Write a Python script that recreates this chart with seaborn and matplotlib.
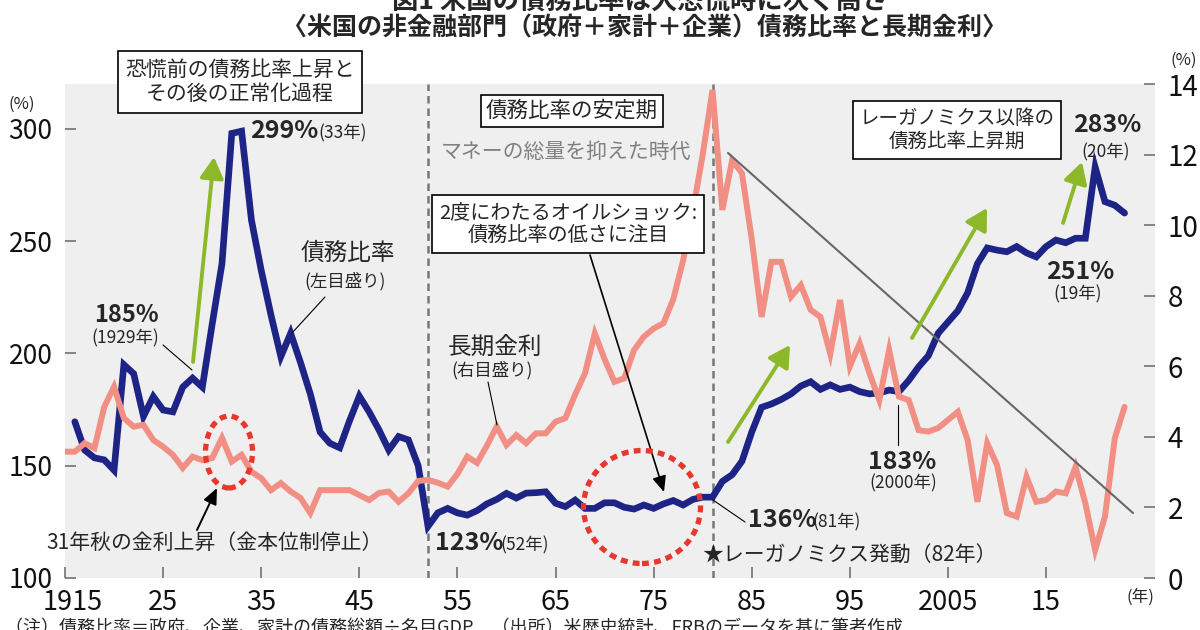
import matplotlib
matplotlib.use("Agg")
import matplotlib.pyplot as plt
from matplotlib.patches import FancyArrowPatch, Ellipse
from matplotlib.transforms import ScaledTranslation
import seaborn as sns
import pandas as pd

# ---------------- data ----------------
debt_years = list(range(1916, 2024))
debt_ratio = [169.6, 157, 153.5, 152.6, 148, 195, 191, 172, 180.8, 174.8,
              174, 185, 189, 185, 213, 240, 298, 299, 259.5, 237,
              217, 198.6, 209, 196, 182, 165, 160, 158, 170, 181,
              174, 166, 157, 163, 161.5, 150, 123, 129, 131, 129,
              128, 130, 133, 135, 137.7, 135.6, 137.8, 138, 138.4, 133.3,
              131.8, 134.7, 131, 131, 133.5, 133.5, 131.5, 130.7, 132.5, 131,
              133, 134.5, 132.5, 135, 136, 136, 143, 146, 152, 165,
              176, 177.5, 179.5, 182, 185.5, 187.4, 184, 186, 184, 185,
              183, 182, 182.4, 183.7, 183, 188, 194, 199, 209, 214,
              219, 227, 240, 247, 246, 245.3, 247.6, 244.8, 243, 247.6,
              250.5, 249.3, 251.3, 251.3, 283, 267.6, 266, 262.5]

rate_years = list(range(1915, 2024))
long_rate = [3.58, 3.58, 3.82, 3.68, 4.85, 5.42, 4.53, 4.29, 4.34, 3.91,
             3.72, 3.49, 3.12, 3.44, 3.34, 3.40, 3.97, 3.30, 3.49, 3.01,
             2.83, 2.49, 2.69, 2.45, 2.27, 1.84, 2.49, 2.49, 2.49, 2.49,
             2.35, 2.21, 2.41, 2.45, 2.16, 2.40, 2.75, 2.78, 2.70, 2.59,
             2.95, 3.44, 3.26, 3.75, 4.29, 3.77, 4.05, 3.82, 4.10, 4.10,
             4.43, 4.53, 5.20, 5.80, 6.93, 6.20, 5.56, 5.66, 6.46, 6.84,
             7.07, 7.22, 7.90, 9.00, 10.40, 12.00, 13.83, 10.43, 11.84, 11.47,
             9.60, 7.40, 8.96, 8.96, 7.97, 8.30, 7.60, 7.40, 6.35, 7.88,
             6.00, 6.65, 5.80, 5.04, 6.46, 5.14, 5.04, 4.19, 4.15, 4.25,
             4.48, 4.71, 3.91, 2.16, 3.82, 3.20, 1.84, 1.74, 2.87, 2.16,
             2.21, 2.45, 2.40, 3.15, 2.12, 0.79, 1.74, 3.96, 4.85]

x_ticks = [1915, 1925, 1935, 1945, 1955, 1965, 1975, 1985, 1995, 2005, 2015]
x_tick_labels = ["1915", "25", "35", "45", "55", "65", "75", "85", "95", "2005", "15"]
left_ticks = [100, 150, 200, 250, 300]
right_ticks = [0, 2, 4, 6, 8, 10, 12, 14]

debt_df = pd.DataFrame({"year": debt_years, "ratio": debt_ratio})
rate_df = pd.DataFrame({"year": rate_years, "rate": long_rate})

# ---------------- style ----------------
sns.set_theme(style="white")
plt.rcParams["font.family"] = ["Noto Sans CJK JP", "DejaVu Sans"]

W, H = 1200, 630
fig = plt.figure(figsize=(12, 6.3), dpi=100)
fig.patch.set_facecolor("white")


def P(x, y):
    return (x / W, 1 - y / H)


L, R, T, B = 65, 1155, 84, 578
ax = fig.add_axes([L / W, 1 - B / H, (R - L) / W, (B - T) / H])
ax.set_facecolor("#efefef")
ax2 = ax.twinx()

NAVY = "#1e2485"
SALMON = "#f28f84"
GREEN = "#8cb82a"
RED = "#e8372c"

sns.lineplot(data=debt_df, x="year", y="ratio", ax=ax, color=NAVY,
             linewidth=4.8, solid_joinstyle="miter", zorder=3)
sns.lineplot(data=rate_df, x="year", y="rate", ax=ax2, color=SALMON,
             linewidth=4.3, solid_joinstyle="miter", zorder=2)

ax.set_xlim(1915, 2026.1)
ax.set_ylim(100, 320)
ax2.set_ylim(0, 14)
ax.set_xlabel("")
ax.set_ylabel("")
ax2.set_ylabel("")

ax.set_xticks(x_ticks)
ax.set_xticklabels(x_tick_labels)
ax.set_yticks(left_ticks)
ax.set_yticklabels([str(v) for v in left_ticks])
ax2.set_yticks(right_ticks)
ax2.set_yticklabels([str(v) for v in right_ticks])

for a in (ax, ax2):
    for s in a.spines.values():
        s.set_visible(False)
ax.tick_params(axis="x", direction="in", length=8, width=1.1, color="#666",
               labelsize=19.5, pad=8, labelcolor="#111", bottom=True)
ax.tick_params(axis="y", direction="in", length=8, width=1.1, color="#666",
               labelsize=19, pad=9, labelcolor="#111", left=True)
ax2.tick_params(axis="y", direction="in", length=8, width=1.1, color="#666",
                labelsize=20, pad=9, labelcolor="#111", right=True)

# shift the "1915" label a little to the right, as in the reference
first = ax.get_xticklabels()[0]
first.set_transform(first.get_transform() + ScaledTranslation(0.08, 0, fig.dpi_scale_trans))

for xv in (1952, 1981):
    ax.axvline(xv, color="#777777", lw=1.8, ls=(0, (3, 2)), zorder=1)

# ---------------- titles ----------------
fig.text(*P(640, 2), "図1 米国の債務比率は大恐慌時に次ぐ高さ", ha="center", va="center",
         fontsize=19, fontweight="bold")
fig.text(*P(645, 29), "〈米国の非金融部門（政府＋家計＋企業）債務比率と長期金利〉",
         ha="center", va="center", fontsize=18, fontweight="bold")
fig.text(*P(5, 619), "（注）債務比率＝政府、企業、家計の債務総額÷名目GDP　（出所）米歴史統計、FRBのデータを基に筆者作成",
         ha="left", va="top", fontsize=13)

fig.text(*P(22, 104), "(%)", ha="center", va="center", fontsize=12)
fig.text(*P(1184, 60), "(%)", ha="center", va="center", fontsize=12)
fig.text(*P(1140, 597), "(年)", ha="center", va="center", fontsize=12)

boxkw = dict(boxstyle="square,pad=0.35", fc="white", ec="black", lw=1.2)

# boxes
fig.text(*P(240, 82), "恐慌前の債務比率上昇と\nその後の正常化過程", ha="center", va="center",
         fontsize=15, linespacing=1.15, bbox=boxkw)
fig.text(*P(572, 111), "債務比率の安定期", ha="center", va="center", fontsize=15.5,
         bbox=dict(boxstyle="square,pad=0.25", fc="white", ec="black", lw=1.2))
fig.text(*P(566, 152), "マネーの総量を抑えた時代", ha="center", va="center",
         fontsize=15, color="#808080")
fig.text(*P(568, 224), "2度にわたるオイルショック:\n債務比率の低さに注目", ha="center",
         va="center", fontsize=14.5, linespacing=1.15, bbox=boxkw)
fig.text(*P(957, 130), "レーガノミクス以降の\n債務比率上昇期", ha="center", va="center",
         fontsize=14, linespacing=1.15, bbox=boxkw)

# labels
fig.text(*P(250, 131), "299%", ha="left", va="center", fontsize=18, fontweight="bold")
fig.text(*P(318, 133), "(33年)", ha="left", va="center", fontsize=12.5)
fig.text(*P(348, 253), "債務比率", ha="center", va="center", fontsize=17)
fig.text(*P(345, 281), "(左目盛り)", ha="center", va="center", fontsize=12.5)
fig.text(*P(126, 315), "185%", ha="center", va="center", fontsize=17, fontweight="bold")
fig.text(*P(125, 338), "(1929年)", ha="center", va="center", fontsize=12.5)
fig.text(*P(215, 543), "31年秋の金利上昇（金本位制停止）", ha="center", va="center", fontsize=15)
fig.text(*P(435, 543), "123%", ha="left", va="center", fontsize=18, fontweight="bold")
fig.text(*P(500, 545), "(52年)", ha="left", va="center", fontsize=12.5)
fig.text(*P(495, 347), "長期金利", ha="center", va="center", fontsize=17)
fig.text(*P(492, 370), "(右目盛り)", ha="center", va="center", fontsize=12.5)
fig.text(*P(748, 520), "136%", ha="left", va="center", fontsize=18, fontweight="bold")
fig.text(*P(812, 522), "(81年)", ha="left", va="center", fontsize=12.5)
fig.text(*P(702, 555), "★レーガノミクス発動（82年）", ha="left", va="center", fontsize=15)
fig.text(*P(1107, 125), "283%", ha="center", va="center", fontsize=18, fontweight="bold")
fig.text(*P(1106, 152), "(20年)", ha="center", va="center", fontsize=12.5)
fig.text(*P(1080, 272), "251%", ha="center", va="center", fontsize=18, fontweight="bold")
fig.text(*P(1078, 294), "(19年)", ha="center", va="center", fontsize=12.5)
fig.text(*P(902, 462), "183%", ha="center", va="center", fontsize=18, fontweight="bold")
fig.text(*P(903, 483), "(2000年)", ha="center", va="center", fontsize=12.5)


def line(p0, p1, color="black", lw=0.8):
    fig.add_artist(plt.Line2D([p0[0] / W, p1[0] / W], [1 - p0[1] / H, 1 - p1[1] / H],
                              transform=fig.transFigure, color=color, lw=lw, zorder=4))


def arrow(p0, p1, color, lw, scale, hw):
    fig.add_artist(FancyArrowPatch(P(*p0), P(*p1), transform=fig.transFigure,
                                   arrowstyle=f"-|>,head_length=0.8,head_width={hw}",
                                   mutation_scale=scale, lw=lw, color=color,
                                   shrinkA=0, shrinkB=0, zorder=5))


# leader lines
line((325, 297), (292, 333))
line((163, 345), (192, 370))
line((488, 382), (497, 425))
line((713, 500), (745, 522))
line((898, 405), (898, 445))
# trend line
line((728, 153), (1133, 513), color="#666666", lw=1.5)

# black arrows
arrow((197, 530), (217, 488), "black", 1.4, 12, 0.35)
arrow((590, 255), (664, 492), "black", 1.2, 12, 0.35)

# green arrows
for p0, p1 in [((193, 362), (214, 157)), ((728, 442), (790, 345)),
               ((912, 338), (987, 208)), ((1063, 223), (1082, 162))]:
    arrow(p0, p1, GREEN, 2.8, 16, 0.45)

# dotted ellipses
for (cx, cy, w, h) in [(229, 452, 47, 72), (642, 507, 117, 113)]:
    fig.add_artist(Ellipse(P(cx, cy), w / W, h / H, transform=fig.transFigure,
                           fill=False, ec=RED, lw=3.8, ls=(0, (1.3, 1.0)), zorder=5))

fig.savefig("out.png", dpi=100)
